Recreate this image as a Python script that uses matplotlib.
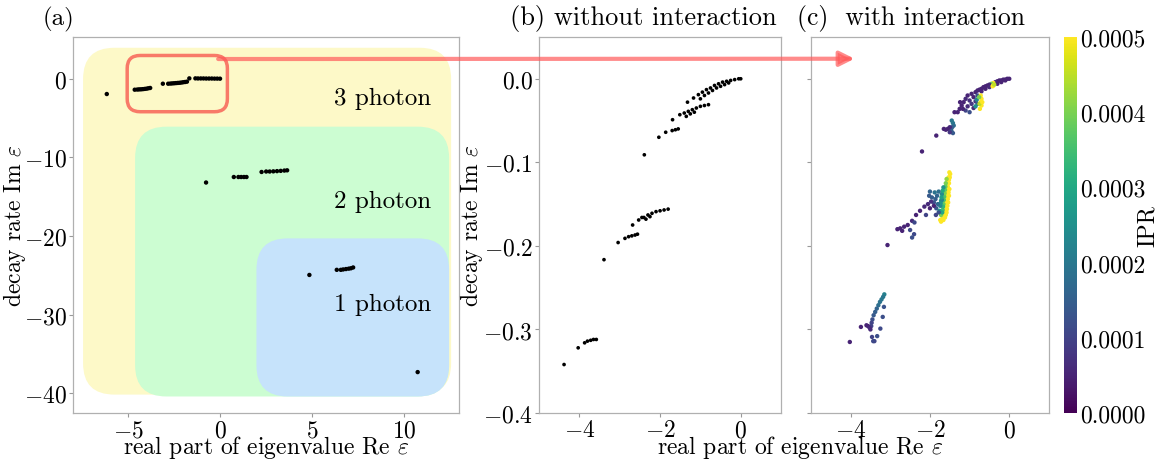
import numpy as np
import matplotlib
matplotlib.use('Agg')
import matplotlib.pyplot as plt
from matplotlib.patches import FancyBboxPatch, ConnectionPatch

plt.rcParams['font.family'] = 'cmr10'
plt.rcParams['mathtext.fontset'] = 'cm'
plt.rcParams['axes.formatter.use_mathtext'] = True

#=============== data (a): all photon sectors =================
a3_x = [-6.16, -4.64, -4.5, -4.4, -4.3, -4.2, -4.1, -4.0, -3.9, -3.8,
        -3.11, -2.82, -2.7, -2.6, -2.5, -2.4, -2.3, -2.2, -2.1, -2.0, -1.9, -1.8,
        -1.67, -1.34, -1.2, -1.05, -0.9, -0.75, -0.6, -0.45, -0.3, -0.15, 0.0]
a3_y = [-1.95, -1.40, -1.38, -1.36, -1.35, -1.33, -1.30, -1.27, -1.22, -1.18,
        -0.64, -0.64, -0.62, -0.60, -0.58, -0.56, -0.54, -0.52, -0.49, -0.45, -0.42, -0.38,
        0.04, 0.04, 0.03, 0.03, 0.03, 0.02, 0.02, 0.02, 0.01, 0.01, 0.0]
a2_x = [-0.76, 0.75, 1.0, 1.15, 1.3, 1.44,
        2.26, 2.51, 2.7, 2.9, 3.1, 3.3, 3.5, 3.65]
a2_y = [-13.2, -12.5, -12.5, -12.5, -12.5, -12.5,
        -11.86, -11.8, -11.8, -11.78, -11.75, -11.72, -11.68, -11.65]
a1_x = [4.86, 6.35, 6.57, 6.7, 6.85, 7.0, 7.12, 7.24, 10.75]
a1_y = [-24.95, -24.3, -24.3, -24.25, -24.2, -24.15, -24.1, -24.0, -37.3]

#=============== data (b): without interaction =================
b_x = [0.0, -0.05, -0.15, -0.25, -0.35, -0.45, -0.55, -0.65, -0.75, -0.85, -0.95, -1.05, -1.17, -1.32,
       -0.3, -0.4, -0.5, -0.6, -0.7, -0.8, -0.9, -1.0,
       -0.8, -0.9, -1.0, -1.1, -1.2, -1.3, -1.4, -1.51, -1.15, -1.25, -1.35,
       -1.69, -1.55, -1.62, -1.7, -1.86, -2.03, -2.39,
       -1.8, -1.9, -2.0, -2.1, -2.2, -2.3, -2.35, -2.4, -2.45, -2.25, -2.53, -2.68,
       -2.56, -2.62, -2.7, -2.78, -2.87, -3.04, -3.39,
       -3.58, -3.65, -3.72, -3.8, -3.87, -4.03, -4.38]
b_y = [0.0, 0.0, -0.001, -0.002, -0.003, -0.004, -0.006, -0.008, -0.011, -0.013, -0.016, -0.019, -0.023, -0.028,
       -0.005, -0.007, -0.009, -0.011, -0.014, -0.017, -0.020, -0.024,
       -0.031, -0.032, -0.033, -0.035, -0.037, -0.039, -0.041, -0.043, -0.040, -0.042, -0.045,
       -0.049, -0.060, -0.061, -0.062, -0.064, -0.070, -0.091,
       -0.156, -0.157, -0.158, -0.159, -0.161, -0.163, -0.168, -0.166, -0.166, -0.165, -0.169, -0.175,
       -0.186, -0.187, -0.188, -0.189, -0.191, -0.196, -0.2165,
       -0.312, -0.312, -0.313, -0.314, -0.316, -0.322, -0.342]

#=============== data (c): with interaction, coloured by IPR =================
c_top_x = [0.0, -0.05, -0.1, -0.15, -0.2, -0.25, -0.3, -0.35, -0.4, -0.45, -0.5, -0.55,
           -0.6, -0.65, -0.7, -0.75, -0.8, -0.1, -0.2, -0.3, -0.4, -0.5, -0.6, -0.7, -0.42, -0.38]
c_top_y = [0.0, 0.0, -0.001, -0.001, -0.002, -0.002, -0.003, -0.004, -0.005, -0.006, -0.007, -0.008,
           -0.009, -0.010, -0.012, -0.013, -0.014, -0.002, -0.004, -0.006, -0.008, -0.010, -0.012, -0.015, -0.009, -0.007]
c_top_ipr = [5e-5, 5e-5, 5e-5, 5e-5, 5e-5, 5e-5, 5e-5, 6e-5, 5e-4, 4e-4, 6e-5, 5e-5,
             5e-5, 5e-5, 5e-5, 5e-5, 5e-5, 5e-5, 5e-5, 5e-5, 5e-4, 6e-5, 5e-5, 5e-5, 5e-4, 4.5e-4]

c_blob_x = [-0.85, -0.95, -1.05, -1.1, -0.9, -1.0, -1.15, -0.95, -1.05, -1.2, -1.25, -1.1, -1.0,
            -1.3, -0.9, -0.85, -0.8, -0.82, -0.8, -0.85, -0.72, -0.7, -0.72, -0.7, -0.74, -0.76,
            -0.75, -0.68, -1.38, -1.24, -1.17]
c_blob_y = [-0.016, -0.018, -0.020, -0.024, -0.022, -0.026, -0.028, -0.030, -0.033, -0.032, -0.036,
            -0.038, -0.040, -0.040, -0.035, -0.027, -0.020, -0.025, -0.030, -0.033, -0.020, -0.024,
            -0.028, -0.032, -0.036, -0.022, -0.030, -0.028, -0.040, -0.028, -0.036]
c_blob_ipr = [5e-5, 5e-5, 5e-5, 6e-5, 5e-5, 7e-5, 5e-5, 8e-5, 6e-5, 5e-5, 5e-5, 1e-4, 1.2e-4,
              5e-5, 6e-5, 8e-5, 1.2e-4, 2.2e-4, 1.5e-4, 2.5e-4, 5e-4, 5e-4, 5e-4, 5e-4, 5e-4, 4e-4,
              4.5e-4, 5e-4, 5e-5, 5e-5, 5e-5]

c_small_x = [-1.45, -1.42, -1.40, -1.44, -1.46, -1.42, -1.5, -1.55, -1.6, -1.65, -1.5, -1.84, -2.2]
c_small_y = [-0.050, -0.053, -0.056, -0.058, -0.062, -0.065, -0.058, -0.060, -0.061, -0.060,
             -0.064, -0.068, -0.087]
c_small_ipr = [2e-4, 2e-4, 1.8e-4, 1.5e-4, 1.5e-4, 1.4e-4, 6e-5, 5e-5, 5e-5, 5e-5, 8e-5, 5e-5, 5e-5]

c_mid_x = [-1.53, -1.50, -1.56, -1.52, -1.58, -1.54, -1.51, -1.60, -1.56, -1.52, -1.62, -1.58,
           -1.54, -1.65, -1.61, -1.57, -1.70, -1.65, -1.60, -1.74, -1.70, -1.66,
           -1.52, -1.55, -1.57, -1.53, -1.59, -1.55, -1.61, -1.56, -1.63, -1.58, -1.68, -1.62,
           -1.72, -1.49, -1.51,
           -1.60, -1.62, -1.64, -1.66, -1.68, -1.72,
           -1.58, -1.61, -1.63, -1.65, -1.67, -1.69,
           -1.66, -1.70, -1.72, -1.74, -1.76, -1.70, -1.68, -1.71, -1.73,
           -1.78, -1.82, -1.86, -1.90, -1.80, -1.84, -1.95, -1.88, -2.0, -2.02, -1.78, -1.85,
           -2.82, -2.75, -2.65, -2.56, -2.45, -2.35, -2.25, -2.14, -2.05, -1.97, -1.9, -2.0, -2.7,
           -2.5, -2.4, -2.45, -2.39, -2.1, -3.07]
c_mid_y = [-0.118, -0.118, -0.125, -0.125, -0.132, -0.132, -0.132, -0.140, -0.140, -0.140,
           -0.148, -0.148, -0.148, -0.156, -0.156, -0.156, -0.163, -0.163, -0.163, -0.169, -0.169, -0.169,
           -0.121, -0.129, -0.136, -0.136, -0.144, -0.144, -0.152, -0.152, -0.160, -0.160, -0.166, -0.166,
           -0.171, -0.114, -0.112,
           -0.125, -0.133, -0.141, -0.150, -0.157, -0.163,
           -0.120, -0.129, -0.137, -0.145, -0.153, -0.160,
           -0.130, -0.138, -0.146, -0.152, -0.158, -0.145, -0.134, -0.142, -0.149,
           -0.135, -0.140, -0.144, -0.148, -0.150, -0.155, -0.142, -0.136, -0.135, -0.140, -0.160, -0.163,
           -0.180, -0.179, -0.177, -0.175, -0.170, -0.163, -0.158, -0.153, -0.150, -0.147, -0.152, -0.155, -0.182,
           -0.181, -0.186, -0.190, -0.172, -0.163, -0.199]
c_mid_ipr = [5e-4, 5e-4, 5e-4, 5e-4, 5e-4, 5e-4, 5e-4, 5e-4, 5e-4, 5e-4,
             5e-4, 5e-4, 5e-4, 5e-4, 5e-4, 5e-4, 5e-4, 5e-4, 5e-4, 5e-4, 5e-4, 5e-4,
             5e-4, 5e-4, 5e-4, 5e-4, 5e-4, 5e-4, 5e-4, 5e-4, 5e-4, 5e-4, 5e-4, 5e-4,
             5e-4, 5e-4, 5e-4,
             4e-4, 3.8e-4, 3.6e-4, 3.8e-4, 3.5e-4, 4e-4,
             4.2e-4, 3.8e-4, 4e-4, 3.6e-4, 3.3e-4, 3e-4,
             2.6e-4, 2.4e-4, 2.6e-4, 2.3e-4, 2.8e-4, 2.2e-4, 3e-4, 2.8e-4, 2.5e-4,
             1.8e-4, 1.6e-4, 1.5e-4, 1.3e-4, 1.7e-4, 1.4e-4, 1.5e-4, 1.9e-4, 1.6e-4, 1.4e-4, 1.2e-4, 1e-4,
             5e-5, 5e-5, 5e-5, 5e-5, 6e-5, 5e-5, 5e-5, 6e-5, 6e-5, 7e-5, 5e-5, 5e-5, 5e-5,
             1.1e-4, 1.1e-4, 1.2e-4, 1.1e-4, 1e-4, 5e-5]

c_low_x = [-3.15, -3.18, -3.22, -3.26, -3.30, -3.34, -3.38, -3.42, -3.45, -3.47, -3.48,
           -3.74, -3.60, -3.56, -3.52, -3.50,
           -3.16, -3.19, -3.25, -3.46, -3.40, -3.43, -3.33, -4.02]
c_low_y = [-0.258, -0.261, -0.264, -0.267, -0.271, -0.275, -0.279, -0.283, -0.288, -0.292, -0.296,
           -0.297, -0.295, -0.296, -0.298, -0.300,
           -0.273, -0.285, -0.299, -0.309, -0.314, -0.314, -0.308, -0.315]
c_low_ipr = [2.2e-4, 2e-4, 2e-4, 1.9e-4, 1.8e-4, 1.6e-4, 1.5e-4, 1.4e-4, 1.2e-4, 1e-4, 1e-4,
             5e-5, 5e-5, 5e-5, 6e-5, 6e-5,
             1.3e-4, 1.2e-4, 1.1e-4, 1e-4, 1e-4, 1.1e-4, 1.2e-4, 5e-5]

c_x = c_top_x + c_blob_x + c_small_x + c_mid_x + c_low_x
c_y = c_top_y + c_blob_y + c_small_y + c_mid_y + c_low_y
c_ipr = c_top_ipr + c_blob_ipr + c_small_ipr + c_mid_ipr + c_low_ipr

ipr_ticks = [0.0, 0.0001, 0.0002, 0.0003, 0.0004, 0.0005]

#=============== figure =================
fig = plt.figure(figsize=(11.58, 4.6), dpi=100)
ax_a = fig.add_axes([0.0630, 0.1, 0.3334, 0.8174])
ax_b = fig.add_axes([0.4655, 0.1, 0.2090, 0.8174])
ax_c = fig.add_axes([0.7003, 0.1, 0.2055, 0.8174], sharey=ax_b)
cax = fig.add_axes([0.9188, 0.1, 0.0112, 0.8174])

for ax in (ax_a, ax_b, ax_c):
    for sp in ax.spines.values():
        sp.set_color('#b0b0b0')
        sp.set_linewidth(0.9)
    ax.tick_params(colors='#999999', labelcolor='black', labelsize=17, length=3, width=0.8, pad=1.5)

# ----- (a)
ax_a.set_xlim(-8, 13)
ax_a.set_ylim(-42.5, 5.3)
ax_a.set_xticks([-5, 0, 5, 10])
ax_a.set_yticks([0, -10, -20, -30, -40])

p0 = ax_a.transData.transform((0, 0))
px_x = ax_a.transData.transform((1, 0))[0] - p0[0]
px_y = ax_a.transData.transform((0, 1))[1] - p0[1]
asp = px_x / px_y

def rbox(x0, y0, x1, y1, r, **kw):
    p = FancyBboxPatch((x0, y0), x1 - x0, y1 - y0,
                       boxstyle='round,pad=0,rounding_size=%g' % r,
                       mutation_aspect=asp, **kw)
    ax_a.add_patch(p)
    return p

rbox(-7.45, -40.16, 12.57, 3.93, 1.7, facecolor='#fdf9c8', edgecolor='none', zorder=0)
rbox(-4.62, -40.4, 12.46, -6.1, 1.7, facecolor='#ccfdd2', edgecolor='none', zorder=0.1)
rbox(1.98, -40.4, 12.46, -20.3, 1.7, facecolor='#c6e3fb', edgecolor='none', zorder=0.2)
rbox(-5.05, -4.2, 0.4, 2.95, 0.7, facecolor='none', edgecolor='#f87a68', linewidth=2.5, zorder=3)

ax_a.scatter(a3_x + a2_x + a1_x, a3_y + a2_y + a1_y, s=10, c='black', edgecolors='none', zorder=2)
ax_a.text(11.5, -2.5, '3 photon', ha='right', va='center', fontsize=18)
ax_a.text(11.5, -15.5, '2 photon', ha='right', va='center', fontsize=18)
ax_a.text(11.5, -28.6, '1 photon', ha='right', va='center', fontsize=18)
ax_a.set_ylabel(r'decay rate Im $\varepsilon$', fontsize=17)
ax_a.yaxis.set_label_coords(-0.117, 0.5)

# ----- (b)
ax_b.set_xlim(-5, 1)
ax_b.set_ylim(-0.4, 0.05)
ax_b.set_xticks([-4, -2, 0])
ax_b.set_yticks([0.0, -0.1, -0.2, -0.3, -0.4])
ax_b.yaxis.set_major_formatter(plt.FormatStrFormatter('$%.1f$'))
ax_b.scatter(b_x, b_y, s=7, c='black', edgecolors='none')
ax_b.set_ylabel(r'decay rate Im $\varepsilon$', fontsize=17)
ax_b.yaxis.set_label_coords(-0.222, 0.5)

# ----- (c)
sc = ax_c.scatter(c_x, c_y, c=c_ipr, cmap='viridis', vmin=0, vmax=0.0005, s=10, edgecolors='none')
ax_c.set_xlim(-5, 1)
ax_c.set_xticks([-4, -2, 0])
ax_c.tick_params(labelleft=False)

cb = fig.colorbar(sc, cax=cax, ticks=ipr_ticks, format='%.4f')
cb.outline.set_visible(False)
cax.tick_params(labelsize=17, length=0, pad=2)
cb.set_label('IPR', fontsize=17)
cax.yaxis.set_label_coords(5.6, 0.5)

# x labels sit on a common baseline near the bottom edge
fig.text(266 / 1158, 1 - 454 / 460, r'real part of eigenvalue Re $\varepsilon$',
         ha='center', va='baseline', fontsize=17)
fig.text(800 / 1158, 1 - 454 / 460, r'real part of eigenvalue Re $\varepsilon$',
         ha='center', va='baseline', fontsize=17)

fig.text(43 / 1158, 1 - 19 / 460, '(a)', ha='left', va='center', fontsize=18)
fig.text(510 / 1158, 1 - 19 / 460, '(b) without interaction', ha='left', va='center', fontsize=19)
fig.text(797 / 1158, 1 - 19 / 460, '(c)  with interaction', ha='left', va='center', fontsize=18.5)

# arrow from zoom box to panel (c)
con = ConnectionPatch(xyA=(-0.1, 2.5), coordsA=ax_a.transData,
                      xyB=(-3.9, 0.024), coordsB=ax_c.transData,
                      arrowstyle='-|>', mutation_scale=22, color='#ff5a5a', alpha=0.7, lw=3)
fig.add_artist(con)

fig.savefig('out.png', dpi=100)
